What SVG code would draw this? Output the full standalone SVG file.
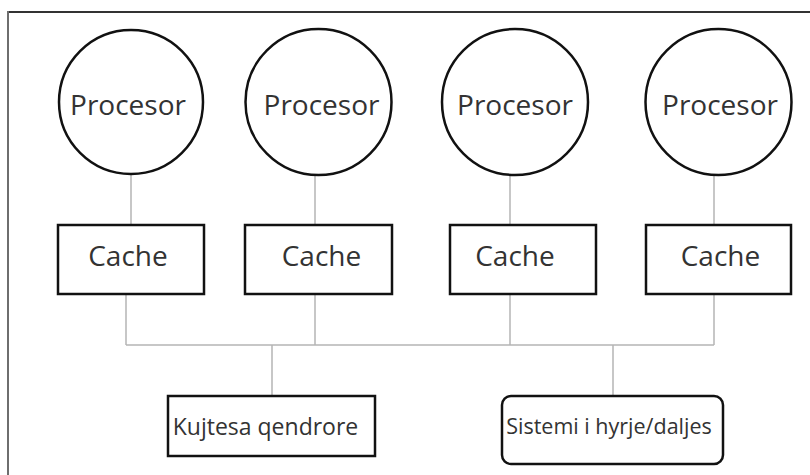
<svg xmlns="http://www.w3.org/2000/svg" width="810" height="475" viewBox="0 0 810 475">
<style>
.frame{stroke:#6e6e6e;stroke-width:2;fill:none}
.conn{stroke:#b4b4b4;stroke-width:1.5;fill:none}
.node{fill:#fff;stroke:#111;stroke-width:2.5}
.lbl{font-family:"Open Sans","Noto Sans",sans-serif;fill:#333;text-anchor:middle}
.big{font-size:28px}
</style>
<rect width="810" height="475" fill="#fff"/>
<g id="frame">
<line class="frame" x1="8" y1="12" x2="810" y2="12" style="stroke:#333"/>
<line class="frame" x1="8" y1="11" x2="8" y2="475"/>
</g>
<g id="connectors">
<line class="conn" x1="131" y1="175" x2="131" y2="225"/>
<line class="conn" x1="315" y1="175" x2="315" y2="225"/>
<line class="conn" x1="510" y1="175" x2="510" y2="225"/>
<line class="conn" x1="714" y1="175" x2="714" y2="225"/>
<line class="conn" x1="126" y1="294" x2="126" y2="345"/>
<line class="conn" x1="315" y1="294" x2="315" y2="345"/>
<line class="conn" x1="510" y1="294" x2="510" y2="345"/>
<line class="conn" x1="714" y1="294" x2="714" y2="345"/>
<line class="conn" x1="126" y1="345" x2="714" y2="345"/>
<line class="conn" x1="272" y1="345" x2="272" y2="396"/>
<line class="conn" x1="613" y1="345" x2="613" y2="396"/>
</g>
<g id="proc1"><circle class="node" cx="131" cy="102" r="72"/><text class="lbl big" x="128" y="115">Procesor</text></g>
<g id="proc2"><circle class="node" cx="318.5" cy="102" r="73"/><text class="lbl big" x="321.5" y="115">Procesor</text></g>
<g id="proc3"><circle class="node" cx="515" cy="102" r="73"/><text class="lbl big" x="515" y="115">Procesor</text></g>
<g id="proc4"><circle class="node" cx="718.5" cy="102" r="73"/><text class="lbl big" x="720" y="115">Procesor</text></g>
<g id="cache1"><rect class="node" x="58" y="225" width="146" height="69"/><text class="lbl big" x="128" y="266">Cache</text></g>
<g id="cache2"><rect class="node" x="245" y="225" width="147" height="69"/><text class="lbl big" x="321.5" y="266">Cache</text></g>
<g id="cache3"><rect class="node" x="450" y="225" width="146" height="69"/><text class="lbl big" x="515" y="266">Cache</text></g>
<g id="cache4"><rect class="node" x="646" y="225" width="145" height="69"/><text class="lbl big" x="720.5" y="266">Cache</text></g>
<g id="memory"><rect class="node" x="168" y="396" width="207" height="60"/><text class="lbl" style="font-size:23px" x="265.5" y="435">Kujtesa qendrore</text></g>
<g id="io"><rect class="node" x="502" y="396" width="221" height="68" rx="9"/><text class="lbl" style="font-size:21.5px" x="609" y="434">Sistemi i hyrje/daljes</text></g>
</svg>
